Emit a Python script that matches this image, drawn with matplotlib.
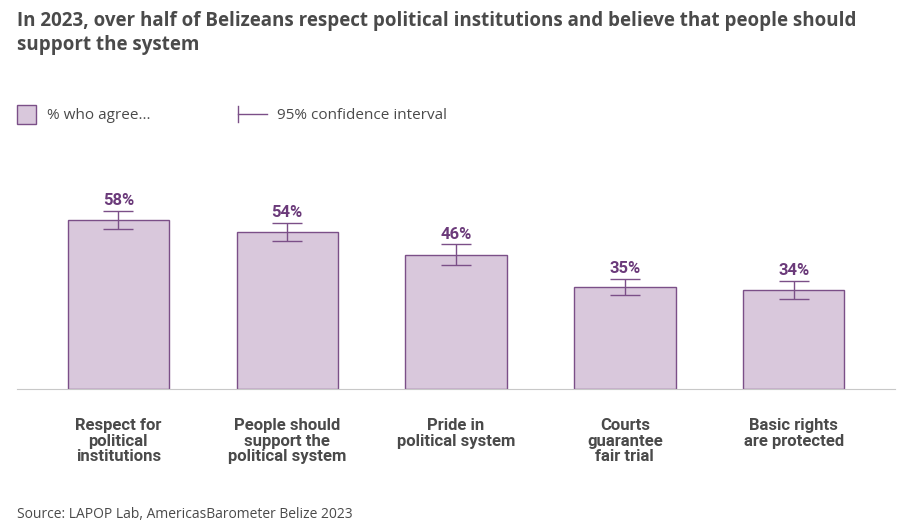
import matplotlib.pyplot as plt
import numpy as np


def generate_chart():
    """Построение столбчатой диаграммы с доверительными интервалами"""
    labels = ['Respect for\npolitical\ninstitutions',
              'People should\nsupport the\npolitical system',
              'Pride in\npolitical system',
              'Courts\nguarantee\nfair trial',
              'Basic rights\nare protected']
    values = [58, 54, 46, 35, 34]
    errors = [3.1, 3.1, 3.6, 2.8, 3.0]

    fill = '#d9c8dc'
    edge = '#7b4f88'
    dark = '#4a4a4a'

    fig = plt.figure(figsize=(9.11, 5.30), dpi=100)
    ax = fig.add_axes([17 / 911, 141 / 530, 878 / 911, 239 / 530])

    x = np.arange(len(values))
    ax.bar(x, values, width=0.6, color=fill, edgecolor=edge, linewidth=1)
    ax.errorbar(x, values, yerr=errors, fmt='none', ecolor=edge,
                elinewidth=1, capsize=11, capthick=1)
    for xi, v, e in zip(x, values, errors):
        ax.text(xi, v + e + 1, f'{v}%', ha='center', va='bottom',
                fontsize=12, fontweight='bold', color='#6b3a7a', family='Roboto')

    ax.set_xlim(-0.6, 4.6)
    ax.set_ylim(0, 82)
    ax.set_xticks(x)
    ax.set_xticklabels(labels, fontsize=12, fontweight='bold', color=dark,
                       family='Roboto', linespacing=1.05)
    ax.tick_params(axis='x', length=0, pad=21)
    ax.set_yticks([])
    for side in ['top', 'right', 'left']:
        ax.spines[side].set_visible(False)
    ax.spines['bottom'].set_color('#c8c8c8')

    # Заголовок
    fig.text(17 / 911, 1 - 33 / 530,
             'In 2023, over half of Belizeans respect political institutions and believe that people should\nsupport the system',
             fontsize=13.5, fontweight='bold', color=dark, family='Open Sans',
             va='center', linespacing=1.3)

    # Легенда
    fig.patches.append(plt.Rectangle((17 / 911, 1 - 124 / 530), 19 / 911, 19 / 530,
                                     transform=fig.transFigure, facecolor=fill,
                                     edgecolor=edge, linewidth=1))
    fig.text(47 / 911, 1 - 115 / 530, '% who agree...', fontsize=11,
             color=dark, family='Open Sans', va='center')
    y_leg = 1 - 114 / 530
    fig.lines.append(plt.Line2D([238 / 911, 267 / 911], [y_leg, y_leg],
                                transform=fig.transFigure, color=edge, lw=1))
    fig.lines.append(plt.Line2D([238 / 911, 238 / 911], [y_leg - 8 / 530, y_leg + 8 / 530],
                                transform=fig.transFigure, color=edge, lw=1))
    fig.text(277 / 911, 1 - 115 / 530, '95% confidence interval', fontsize=11,
             color=dark, family='Open Sans', va='center')

    # Источник
    fig.text(17 / 911, 1 - 514 / 530, 'Source: LAPOP Lab, AmericasBarometer Belize 2023',
             fontsize=10, color=dark, family='Open Sans', va='center')

    plt.savefig('out.png', dpi=100)


def main():
    """Основная функция"""
    generate_chart()


if __name__ == "__main__":
    main()
